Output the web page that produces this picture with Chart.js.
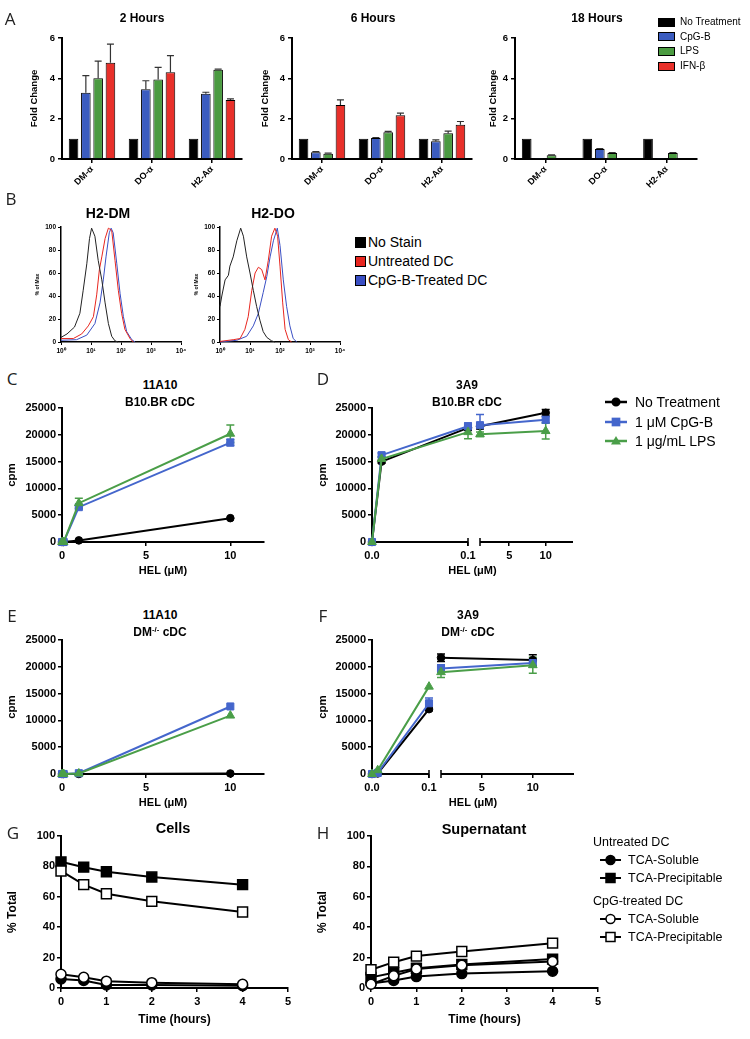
<!DOCTYPE html>
<html>
<head>
<meta charset="utf-8">
<title>DM / DO expression and antigen presentation</title>
<script src="https://cdn.jsdelivr.net/npm/chart.js@4.4.1/dist/chart.umd.min.js"></script>
<style>
  html, body { margin: 0; padding: 0; background: #fff; }
  body { position: relative; width: 750px; height: 1039px; overflow: hidden;
         font-family: "Liberation Sans", Arial, sans-serif; color: #000; }
  .box { position: absolute; }
  .lbl { position: absolute; white-space: nowrap; line-height: 1; transform: translate(-50%, -50%); }
  .letter { font: 17px "Open Sans", sans-serif; color: #222; }
  .ttl { font-weight: bold; }
  .leg { position: absolute; white-space: nowrap; line-height: 1; transform: translateY(-50%);
         display: flex; align-items: center; }
  sup { font-size: 65%; vertical-align: 0.5em; line-height: 0; }
</style>
</head>
<body>
<script>
// ---- A: fold change of DM-α / DO-α / H2-Aα after treatment ----
const geneLabels = ['DM-α', 'DO-α', 'H2-Aα'];
const treatNames = ['No Treatment', 'CpG-B', 'LPS', 'IFN-β'];
const treatColors = ['#000000', '#3b5cc0', '#4b9b41', '#e8302a'];
// rows = treatment, columns = gene
const fold2h = [[1, 1, 1], [3.28, 3.46, 3.23], [4.0, 3.94, 4.43], [4.77, 4.3, 2.93]];
const err2h = [[0, 0, 0], [0.85, 0.42, 0.08], [0.85, 0.6, 0.03], [0.93, 0.83, 0.05]];
const fold6h = [[1, 1, 1], [0.33, 1.04, 0.88], [0.26, 1.33, 1.28], [2.68, 2.17, 1.7]];
const err6h = [[0, 0, 0], [0.04, 0.02, 0.07], [0.03, 0.04, 0.1], [0.25, 0.1, 0.16]];
const fold18h = [[1, 1, 1], [0.05, 0.5, 0.05], [0.18, 0.3, 0.3], [null, null, null]];
const err18h = [[0, 0, 0], [0, 0.02, 0], [0.02, 0.02, 0.02], [0, 0, 0]];

// ---- B: flow histograms, x in decades (10^0 .. 10^4), y in % of max ----
const flowNames = ['No Stain', 'Untreated DC', 'CpG-B-Treated DC'];
const flowColors = ['#222222', '#e8261f', '#3a4fc4'];
const decadeTicks = [0, 1, 2, 3, 4];
const decadeLabels = ['10⁰', '10¹', '10²', '10³', '10⁴'];
const dmNoStain = [[0, 4], [0.2, 7], [0.45, 13], [0.63, 25], [0.74, 45], [0.86, 68], [0.95, 90], [1.02, 99], [1.13, 92], [1.24, 71], [1.36, 54], [1.47, 34], [1.58, 16], [1.69, 5], [1.8, 1], [1.9, 0]];
const dmUntreated = [[0, 3], [0.41, 3], [0.69, 7], [0.91, 14], [1.08, 22], [1.19, 41], [1.28, 63], [1.36, 74], [1.47, 90], [1.58, 99], [1.69, 97], [1.8, 71], [1.91, 45], [2.02, 25], [2.13, 11], [2.3, 3], [2.41, 0]];
const dmCpG = [[0, 1.5], [0.52, 2], [0.86, 6], [1.13, 16], [1.3, 34], [1.41, 54], [1.5, 74], [1.61, 95], [1.67, 99], [1.74, 95], [1.86, 68], [1.97, 42], [2.08, 22], [2.19, 9], [2.36, 2], [2.47, 0]];
const doNoStain = [[0, 31], [0.06, 40], [0.17, 54], [0.28, 58], [0.33, 66], [0.44, 74], [0.56, 88], [0.69, 99], [0.78, 92], [0.89, 74], [1.0, 60], [1.11, 45], [1.22, 31], [1.33, 19], [1.44, 9], [1.56, 4], [1.72, 1], [1.83, 0]];
const doUntreated = [[0, 0.5], [0.44, 2], [0.67, 3], [0.83, 11], [0.94, 22], [1.06, 45], [1.17, 60], [1.28, 65], [1.39, 63], [1.5, 54], [1.61, 71], [1.72, 92], [1.83, 99], [1.92, 92], [2.0, 66], [2.09, 34], [2.17, 11], [2.28, 2], [2.39, 0]];
const doCpG = [[0, 0], [0.56, 1.5], [0.89, 5], [1.11, 14], [1.28, 25], [1.44, 43], [1.56, 57], [1.67, 74], [1.78, 88], [1.91, 99], [2.0, 84], [2.11, 54], [2.22, 31], [2.33, 14], [2.44, 3], [2.56, 0]];

// ---- C-F: T cell hybridoma response (cpm) vs HEL (µM) ----
const hybNames = ['No Treatment', '1 μM CpG-B', '1 μg/mL LPS'];
const hybColors = ['#000000', '#4466cc', '#4a9e48'];
const helC = [0, 0.1, 1, 10];
const c11NoTx = [0, 0, 300, 4450];
const c11CpG = [0, 0, 6500, 18550];
const c11LPS = [0, 0, 7250, 20200];
const c11CpGErr = [0, 0, 300, 600];
const c11LPSErr = [0, 0, 900, 1650];

const helD = [0, 0.01, 0.1, 1, 10];
const d3NoTx = [0, 15000, 21300, 21600, 24100];
const d3CpG = [0, 16200, 21600, 21800, 22800];
const d3LPS = [0, 15500, 20500, 20100, 20700];
const d3NoTxErr = [0, 300, 500, 500, 600];
const d3CpGErr = [0, 400, 600, 2000, 600];
const d3LPSErr = [0, 400, 1250, 400, 1500];

const e11NoTx = [0, 0, 0, 100];
const e11CpG = [0, 0, 150, 12600];
const e11LPS = [0, 0, 100, 10900];

const f3NoTx = [0, 100, 12100, 21700, 21250];
const f3CpG = [0, 200, 13200, 19700, 20700];
const f3LPS = [0, 700, 16300, 19000, 20300];
const f3NoTxErr = [0, 0, 300, 700, 1000];
const f3CpGErr = [0, 0, 1000, 700, 800];
const f3LPSErr = [0, 0, 0, 1000, 1500];

const helLinearTicks = [0, 5, 10];
const helBrokenLabels = ['0.0', '0.1', '5', '10'];

// ---- G-H: HEL degradation, % of total ----
const timeHours = [0, 0.5, 1, 2, 4];
const cellsUntSol = [6, 5, 2, 2, 1.5];
const cellsUntPpt = [83, 79.5, 76.5, 73, 68];
const cellsCpgSol = [9, 7, 4.5, 3.5, 2.5];
const cellsCpgPpt = [77, 68, 62, 57, 50];
const supUntSol = [3, 5, 7.5, 9.5, 11];
const supUntPpt = [7, 10, 13, 15.5, 19];
const supCpgSol = [2.5, 8, 12.5, 15, 17.5];
const supCpgPpt = [12, 17, 21, 24, 29.5];

// ---------------------------------------------------------------
const FONT = '"Liberation Sans", Arial, Helvetica, sans-serif';
const bold = (size) => ({ family: FONT, size, weight: 'bold' });

// 誤差棒: dataset.errors の値を上 (errorUp) または上下に描く
const errorBars = {
  id: 'errorBars',
  beforeDatasetsDraw(chart) {
    const ctx = chart.ctx;
    const ys = chart.scales.y;
    chart.data.datasets.forEach((ds, i) => {
      if (!ds.errors) return;
      const meta = chart.getDatasetMeta(i);
      ctx.save();
      ctx.strokeStyle = ds.errorColor || ds.borderColor;
      ctx.lineWidth = ds.errorWidth || 1.5;
      meta.data.forEach((el, j) => {
        const e = ds.errors[j];
        const raw = ds.data[j];
        const v = raw !== null && typeof raw === 'object' ? raw.y : raw;
        if (!e || v == null) return;
        const cap = ds.errorCap || 3.5;
        const yTop = ys.getPixelForValue(v + e);
        const yBot = ds.errorUp ? el.y : ys.getPixelForValue(Math.max(0, v - e));
        ctx.beginPath();
        ctx.moveTo(el.x, yBot);
        ctx.lineTo(el.x, yTop);
        ctx.moveTo(el.x - cap, yTop);
        ctx.lineTo(el.x + cap, yTop);
        if (!ds.errorUp) {
          ctx.moveTo(el.x - cap, yBot);
          ctx.lineTo(el.x + cap, yBot);
        }
        ctx.stroke();
      });
      ctx.restore();
    });
  }
};

// 折れ軸: x 軸を gap の前後 2 本に分けて描く
const brokenAxis = {
  id: 'brokenAxis',
  beforeDatasetsDraw(chart, args, opts) {
    if (!opts || !opts.gap) return;
    const xs = chart.scales.x;
    const a = chart.chartArea;
    const ctx = chart.ctx;
    const p1 = xs.getPixelForValue(opts.gap[0]);
    const p2 = xs.getPixelForValue(opts.gap[1]);
    const y = a.bottom;
    ctx.save();
    ctx.strokeStyle = '#000';
    ctx.lineWidth = 2;
    ctx.beginPath();
    ctx.moveTo(a.left - 1, y); ctx.lineTo(p1, y);
    ctx.moveTo(p2, y); ctx.lineTo(a.right, y);
    ctx.stroke();
    ctx.lineWidth = 1.5;
    ctx.beginPath();
    ctx.moveTo(p1, y - 4); ctx.lineTo(p1, y + 4);
    ctx.moveTo(p2, y - 4); ctx.lineTo(p2, y + 4);
    ctx.stroke();
    ctx.restore();
  }
};

Chart.register(errorBars, brokenAxis);
Chart.defaults.font.family = FONT;
Chart.defaults.color = '#000';
Chart.defaults.plugins.legend.display = false;
Chart.defaults.plugins.tooltip.enabled = false;

function axis(o) {
  const ax = {
    type: o.type || 'linear',
    grid: { drawOnChartArea: false, drawTicks: true, tickLength: o.tick ?? 4, color: '#000',
            lineWidth: o.tickWidth ?? 1.5, offset: false },
    border: { display: o.border !== false, color: '#000', width: o.borderWidth ?? 2 },
    ticks: { font: bold(o.font), color: '#000', padding: o.pad ?? 2, autoSkip: false,
             maxRotation: o.rot ?? 0, minRotation: o.rot ?? 0 },
    title: { display: !!o.title, text: o.title || '', font: bold(o.titleSize || 11), color: '#000' }
  };
  if (o.min !== undefined) ax.min = o.min;
  if (o.max !== undefined) ax.max = o.max;
  if (o.step) ax.ticks.stepSize = o.step;
  if (o.labels) ax.ticks.callback = (v, i) => o.labels[i];
  else if (ax.type === 'linear') ax.ticks.callback = (v) => String(v);
  if (o.at) ax.afterBuildTicks = (s) => { s.ticks = o.at.map((v) => ({ value: v })); };
  return ax;
}

// box = canvas rectangle on the page, area = wanted plot rectangle
function makeChart(box, area, config, yTitleX, xTitleY) {
  const wrap = document.createElement('div');
  wrap.className = 'box';
  wrap.style.cssText = `left:${box.x}px;top:${box.y}px;width:${box.w}px;height:${box.h}px`;
  const cv = document.createElement('canvas');
  wrap.appendChild(cv);
  document.body.appendChild(wrap);
  const o = config.options;
  const xh = box.y + box.h - area.b;
  const yw = area.l - box.x;
  o.responsive = true;
  o.maintainAspectRatio = false;
  o.animation = false;
  o.layout = { padding: { left: 0, right: box.x + box.w - area.r, top: area.t - box.y, bottom: 0 } };
  o.scales.x.afterFit = (s) => { s.height = xh; };
  o.scales.y.afterFit = (s) => { s.width = yw; };
  const yt = o.scales.y.title;
  if (yt.display) yt.padding = { top: yTitleX - box.x - yt.font.size * 0.6, bottom: 0 };
  const xt = o.scales.x.title;
  if (xt.display) xt.padding = { top: 0, bottom: box.y + box.h - xTitleY - xt.font.size * 0.6 };
  return new Chart(cv, config);
}

function label(html, x, y, cls, size) {
  const d = document.createElement('div');
  d.className = 'lbl ' + cls;
  d.style.left = x + 'px';
  d.style.top = y + 'px';
  if (size) d.style.fontSize = size + 'px';
  d.innerHTML = html;
  document.body.appendChild(d);
}

function legendRow(x, y, marker, text, size, gap) {
  const d = document.createElement('div');
  d.className = 'leg';
  d.style.left = x + 'px';
  d.style.top = y + 'px';
  d.style.fontSize = size + 'px';
  d.innerHTML = marker + `<span style="margin-left:${gap}px">${text}</span>`;
  document.body.appendChild(d);
}

function swatch(w, h, color) {
  return `<span style="display:block;width:${w}px;height:${h}px;background:${color};border:1px solid #000;box-sizing:border-box"></span>`;
}

function lineMarker(w, color, shape, fill, r, lw) {
  const c = w / 2, h = 14, m = h / 2;
  let mk = '';
  if (shape === 'circle') mk = `<circle cx="${c}" cy="${m}" r="${r}" fill="${fill}" stroke="${color}" stroke-width="1.5"/>`;
  if (shape === 'rect') mk = `<rect x="${c - r}" y="${m - r}" width="${2 * r}" height="${2 * r}" fill="${fill}" stroke="${color}" stroke-width="1.5"/>`;
  if (shape === 'triangle') mk = `<polygon points="${c},${m - r} ${c + r},${m + r * 0.7} ${c - r},${m + r * 0.7}" fill="${fill}"/>`;
  return `<svg width="${w}" height="${h}" style="display:block"><line x1="0" y1="${m}" x2="${w}" y2="${m}" stroke="${color}" stroke-width="${lw}"/>${mk}</svg>`;
}

// ---------------- Panel A ----------------
function barDatasets(values, errs) {
  return treatNames.map((name, k) => ({
    label: name,
    data: values[k],
    backgroundColor: treatColors[k],
    borderColor: '#000',
    borderWidth: 1,
    categoryPercentage: 0.82,
    barPercentage: 0.78,
    errors: errs[k],
    errorUp: true,
    errorColor: '#333',
    errorWidth: 1.2,
    errorCap: 3.5
  }));
}
function barChart(box, area, values, errs, yTitleX) {
  return makeChart(box, area, {
    type: 'bar',
    data: { labels: geneLabels, datasets: barDatasets(values, errs) },
    options: {
      scales: {
        x: axis({ type: 'category', font: 9, rot: 45, pad: 1 }),
        y: axis({ min: 0, max: 6, step: 2, font: 9.5, pad: 3, title: 'Fold Change', titleSize: 9.5 })
      }
    }
  }, yTitleX);
}
barChart({ x: 0, y: 0, w: 250, h: 200 }, { l: 62, t: 38, r: 242, b: 159 }, fold2h, err2h, 34);
barChart({ x: 250, y: 0, w: 228, h: 200 }, { l: 292, t: 38, r: 472, b: 159 }, fold6h, err6h, 265);
barChart({ x: 486, y: 0, w: 216, h: 200 }, { l: 515, t: 38, r: 697, b: 159 }, fold18h, err18h, 493);

label('2 Hours', 142, 18, 'ttl', 12);
label('6 Hours', 373, 18, 'ttl', 12);
label('18 Hours', 597, 18, 'ttl', 12);
treatNames.forEach((n, k) => legendRow(658, 22 + k * 14.7, swatch(17, 9, treatColors[k]), n, 10, 5));

// ---------------- Panel B ----------------
function flowChart(box, area, curves, yTitleX) {
  return makeChart(box, area, {
    type: 'line',
    data: {
      datasets: curves.map((pts, k) => ({
        data: pts.map((p) => ({ x: p[0], y: p[1] })),
        borderColor: flowColors[k],
        borderWidth: 1,
        pointRadius: 0,
        tension: 0,
        clip: false
      }))
    },
    options: {
      scales: {
        x: axis({ min: 0, max: 4, at: decadeTicks, labels: decadeLabels, font: 6.5, tick: 3, tickWidth: 1, borderWidth: 1.5, pad: 2 }),
        y: axis({ min: 0, max: 100, step: 20, font: 6.5, tick: 3, tickWidth: 1, borderWidth: 1.5, pad: 2, title: '% of Max', titleSize: 5 })
      }
    }
  }, yTitleX);
}
flowChart({ x: 30, y: 215, w: 160, h: 145 }, { l: 61, t: 227, r: 181, b: 342 }, [dmNoStain, dmUntreated, dmCpG], 38);
flowChart({ x: 190, y: 215, w: 160, h: 145 }, { l: 220, t: 227, r: 340, b: 342 }, [doNoStain, doUntreated, doCpG], 197);
label('H2-DM', 108, 213, 'ttl', 14);
label('H2-DO', 273, 213, 'ttl', 14);
flowNames.forEach((n, k) => legendRow(355, 242 + k * 19, swatch(11, 11, flowColors[k] === '#222222' ? '#000' : flowColors[k]), n, 14, 2));

// ---------------- Panels C-F ----------------
const hybShapes = [['circle', 3.8], ['rect', 5], ['triangle', 5]];
function hybDatasets(xs, series, errs, mapX, gap) {
  return series.map((ys, k) => {
    const ds = {
      data: xs.map((x, i) => ({ x: mapX(x), y: ys[i] })),
      borderColor: hybColors[k],
      backgroundColor: hybColors[k],
      pointBackgroundColor: hybColors[k],
      pointBorderColor: hybColors[k],
      borderWidth: 2,
      pointStyle: hybShapes[k][0],
      pointRadius: hybShapes[k][1],
      pointBorderWidth: 1,
      tension: 0,
      clip: false,
      order: 2 - k,
      errors: errs[k],
      errorColor: hybColors[k],
      errorWidth: 1.5,
      errorCap: 4
    };
    if (gap) {
      ds.segment = {
        borderColor: (c) => (c.p0.parsed.x <= gap[0] + 1e-6 && c.p1.parsed.x >= gap[1] - 1e-6 ? 'rgba(0,0,0,0)' : undefined)
      };
    }
    return ds;
  });
}
const identity = (v) => v;
function brokenX(lowPx, gapPx, highPerUnit) {
  return (v) => (v <= 0.1 ? (v / 0.1) * lowPx : lowPx + gapPx + (v - 1) * highPerUnit);
}
const mapD = brokenX(96, 12, 7.3);
const mapF = brokenX(57, 12, 10.2);

function linearHelChart(box, area, series, errs) {
  return makeChart(box, area, {
    type: 'line',
    data: { datasets: hybDatasets(helC, series, errs, identity, null) },
    options: {
      scales: {
        x: axis({ min: 0, max: 12, at: helLinearTicks, font: 11, pad: 3, title: 'HEL (μM)', titleSize: 11 }),
        y: axis({ min: 0, max: 25000, step: 5000, font: 11, pad: 2, title: 'cpm', titleSize: 11.5 })
      }
    }
  }, 12, area.b + 29);
}
function brokenHelChart(box, area, series, errs, mapX, xMax) {
  const gap = [mapX(0.1), mapX(1)];
  return makeChart(box, area, {
    type: 'line',
    data: { datasets: hybDatasets(helD, series, errs, mapX, gap) },
    options: {
      plugins: { brokenAxis: { gap } },
      scales: {
        x: axis({ min: 0, max: xMax, at: [0, mapX(0.1), mapX(5), mapX(10)], labels: helBrokenLabels, font: 11, pad: 3,
                  border: false, title: 'HEL (μM)', titleSize: 11 }),
        y: axis({ min: 0, max: 25000, step: 5000, font: 11, pad: 2, title: 'cpm', titleSize: 11.5 })
      }
    }
  }, 323, area.b + 29);
}

linearHelChart({ x: 0, y: 395, w: 290, h: 185 }, { l: 62, t: 408, r: 264, b: 542 },
  [c11NoTx, c11CpG, c11LPS], [null, c11CpGErr, c11LPSErr]);
brokenHelChart({ x: 316, y: 395, w: 270, h: 185 }, { l: 372, t: 408, r: 573, b: 542 },
  [d3NoTx, d3CpG, d3LPS], [d3NoTxErr, d3CpGErr, d3LPSErr], mapD, 201);
linearHelChart({ x: 0, y: 627, w: 290, h: 185 }, { l: 62, t: 640, r: 264, b: 774 },
  [e11NoTx, e11CpG, e11LPS], [null, null, null]);
brokenHelChart({ x: 316, y: 627, w: 270, h: 185 }, { l: 372, t: 640, r: 574, b: 774 },
  [f3NoTx, f3CpG, f3LPS], [f3NoTxErr, f3CpGErr, f3LPSErr], mapF, 202);

label('11A10', 160, 385, 'ttl', 12);
label('B10.BR cDC', 160, 402, 'ttl', 12);
label('3A9', 467, 385, 'ttl', 12);
label('B10.BR cDC', 467, 402, 'ttl', 12);
label('11A10', 160, 615, 'ttl', 12);
label('DM<sup>-/-</sup> cDC', 160, 632, 'ttl', 12);
label('3A9', 468, 615, 'ttl', 12);
label('DM<sup>-/-</sup> cDC', 468, 632, 'ttl', 12);
hybNames.forEach((n, k) => {
  const [shape, r] = hybShapes[k];
  legendRow(605, 402 + k * 19.5, lineMarker(22, hybColors[k], shape, hybColors[k], shape === 'rect' ? 3.6 : r, 2.5), n, 14, 8);
});

// ---------------- Panels G-H ----------------
const degNames = ['TCA-Soluble', 'TCA-Precipitable', 'TCA-Soluble', 'TCA-Precipitable'];
const degShapes = ['circle', 'rect', 'circle', 'rect'];
const degFills = ['#000', '#000', '#fff', '#fff'];
function degChart(box, area, series, yTitleX) {
  return makeChart(box, area, {
    type: 'line',
    data: {
      datasets: series.map((ys, k) => ({
        data: timeHours.map((t, i) => ({ x: t, y: ys[i] })),
        borderColor: '#000',
        borderWidth: 2,
        pointStyle: degShapes[k],
        pointRadius: degShapes[k] === 'rect' ? 7 : 5,
        pointBackgroundColor: degFills[k],
        pointBorderColor: '#000',
        pointBorderWidth: 1.5,
        tension: 0,
        clip: false,
        order: k < 2 ? 2 : 1
      }))
    },
    options: {
      scales: {
        x: axis({ min: 0, max: 5, step: 1, font: 11, pad: 3, title: 'Time (hours)', titleSize: 12 }),
        y: axis({ min: 0, max: 100, step: 20, font: 11, pad: 2, title: '% Total', titleSize: 12 })
      }
    }
  }, yTitleX, 1020);
}
degChart({ x: 0, y: 826, w: 300, h: 210 }, { l: 61, t: 836, r: 288, b: 988 },
  [cellsUntSol, cellsUntPpt, cellsCpgSol, cellsCpgPpt], 13);
degChart({ x: 310, y: 826, w: 300, h: 210 }, { l: 371, t: 836, r: 598, b: 988 },
  [supUntSol, supUntPpt, supCpgSol, supCpgPpt], 323);
label('Cells', 173, 828, 'ttl', 14.5);
label('Supernatant', 484, 829, 'ttl', 14.5);

function groupHead(text, x, y) {
  const d = document.createElement('div');
  d.className = 'leg';
  d.style.left = x + 'px';
  d.style.top = y + 'px';
  d.style.fontSize = '12.5px';
  d.textContent = text;
  document.body.appendChild(d);
}
groupHead('Untreated DC', 593, 842);
groupHead('CpG-treated DC', 593, 901);
[860, 878, 919, 937].forEach((y, k) => {
  legendRow(600, y, lineMarker(21, '#000', degShapes[k], degFills[k], 4.5, 2), degNames[k], 12.5, 7);
});

// ---------------- panel letters ----------------
[['A', 10, 18], ['B', 11, 198], ['C', 12, 378], ['D', 323, 378],
 ['E', 12, 615], ['F', 323, 615], ['G', 13, 832], ['H', 323, 832]]
  .forEach(([t, x, y]) => label(t, x, y, 'letter'));
</script>
</body>
</html>
